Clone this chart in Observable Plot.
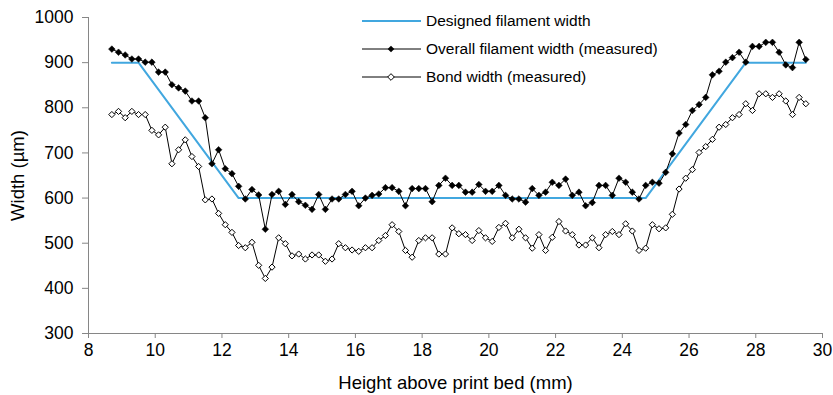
<!DOCTYPE html>
<html>
<head>
<meta charset="utf-8">
<script src="https://cdn.jsdelivr.net/npm/d3@7"></script>
<script src="https://cdn.jsdelivr.net/npm/@observablehq/plot@0.6"></script>
<style>
  html, body { margin: 0; padding: 0; background: #fff; }
  #chart { position: relative; width: 833px; height: 395px; }
</style>
</head>
<body>
<div id="chart"></div>
<script>
// Heights above print bed (mm)
const heights = [
  8.7, 8.9, 9.1, 9.3, 9.5, 9.7, 9.9, 10.1, 10.3, 10.5,
  10.7, 10.9, 11.1, 11.3, 11.5, 11.7, 11.9, 12.1, 12.3, 12.5,
  12.7, 12.9, 13.1, 13.3, 13.5, 13.7, 13.9, 14.1, 14.3, 14.5,
  14.7, 14.9, 15.1, 15.3, 15.5, 15.7, 15.9, 16.1, 16.3, 16.5,
  16.7, 16.9, 17.1, 17.3, 17.5, 17.7, 17.9, 18.1, 18.3, 18.5,
  18.7, 18.9, 19.1, 19.3, 19.5, 19.7, 19.9, 20.1, 20.3, 20.5,
  20.7, 20.9, 21.1, 21.3, 21.5, 21.7, 21.9, 22.1, 22.3, 22.5,
  22.7, 22.9, 23.1, 23.3, 23.5, 23.7, 23.9, 24.1, 24.3, 24.5,
  24.7, 24.9, 25.1, 25.3, 25.5, 25.7, 25.9, 26.1, 26.3, 26.5,
  26.7, 26.9, 27.1, 27.3, 27.5, 27.7, 27.9, 28.1, 28.3, 28.5,
  28.7, 28.9, 29.1, 29.3, 29.5
];
// Overall filament width (measured), µm
const overallWidth = [
  930, 923, 917, 908, 908, 901, 901, 879, 879, 851,
  844, 837, 815, 815, 778, 676, 707, 665, 654, 626,
  598, 619, 607, 531, 608, 615, 586, 608, 592, 584,
  575, 608, 575, 598, 598, 608, 615, 583, 600, 606,
  609, 623, 623, 615, 583, 621, 621, 621, 592, 628,
  644, 628, 628, 613, 613, 630, 615, 615, 628, 606,
  598, 598, 591, 621, 606, 613, 635, 628, 642, 606,
  613, 583, 590, 628, 628, 606, 644, 635, 613, 598,
  628, 635, 633, 657, 698, 744, 763, 794, 807, 823,
  873, 881, 901, 911, 923, 901, 936, 936, 945, 945,
  923, 895, 889, 945, 907
];
// Bond width (measured), µm
const bondWidth = [
  785, 792, 778, 792, 785, 785, 750, 740, 757, 676,
  707, 729, 692, 670, 596, 598, 566, 541, 524, 495,
  490, 502, 451, 422, 447, 512, 499, 472, 476, 465,
  474, 474, 460, 465, 499, 490, 485, 482, 490, 490,
  506, 517, 541, 526, 484, 469, 506, 512, 512, 476,
  476, 534, 521, 519, 506, 528, 512, 504, 535, 544,
  512, 531, 512, 489, 519, 484, 513, 548, 527, 519,
  496, 496, 512, 490, 519, 526, 519, 543, 527, 484,
  489, 541, 532, 534, 564, 620, 644, 663, 701, 714,
  730, 757, 763, 778, 785, 809, 794, 831, 831, 823,
  831, 815, 785, 823, 809
];
// Designed filament width profile
const designedHeights = [8.7, 9.5, 12.5, 24.7, 27.7, 29.5];
const designedWidth = [900, 900, 600, 600, 900, 900];

const xTicks = [8, 10, 12, 14, 16, 18, 20, 22, 24, 26, 28, 30];
const yTicks = [300, 400, 500, 600, 700, 800, 900, 1000];

const seriesNames = ["Designed filament width", "Overall filament width (measured)", "Bond width (measured)"];

const overall = heights.map((h, i) => ({h, w: overallWidth[i]}));
const bond = heights.map((h, i) => ({h, w: bondWidth[i]}));
const designed = designedHeights.map((h, i) => ({h, w: designedWidth[i]}));

const blue = "#41A7DF";
const axisGray = "#868686";
const font = "'Liberation Sans', Arial, sans-serif";

const chart = Plot.plot({
  width: 833,
  height: 395,
  marginLeft: 88,
  marginRight: 11,
  marginTop: 17,
  marginBottom: 62,
  style: {fontFamily: font, fontSize: "17.5px", color: "#000", background: "#fff"},
  x: {domain: [8, 30]},
  y: {domain: [300, 1000]},
  marks: [
    Plot.ruleX([8], {stroke: axisGray, strokeWidth: 1}),
    Plot.ruleY([300], {stroke: axisGray, strokeWidth: 1}),
    Plot.axisX({ticks: xTicks, tickSize: 5, tickPadding: 5, stroke: axisGray, fill: "#000",
      fontSize: 17.5, tickFormat: d => String(d), label: null}),
    Plot.axisX({ticks: [], label: "Height above print bed (mm)", labelAnchor: "center",
      labelArrow: "none", labelOffset: 55, fontSize: 18.5, fill: "#000"}),
    Plot.axisY({ticks: yTicks, tickSize: 6, tickPadding: 9, stroke: axisGray, fill: "#000",
      fontSize: 17.5, tickFormat: d => String(d), label: null}),
    Plot.axisY({ticks: [], label: "Width (µm)", labelAnchor: "center", labelArrow: "none",
      labelOffset: 78, fontSize: 18.5, fill: "#000"}),
    Plot.line(designed, {x: "h", y: "w", stroke: blue, strokeWidth: 2}),
    Plot.line(overall, {x: "h", y: "w", stroke: "#000", strokeWidth: 1}),
    Plot.dot(overall, {x: "h", y: "w", symbol: "diamond2", r: 3, fill: "#000", stroke: "#000", strokeWidth: 0.5}),
    Plot.line(bond, {x: "h", y: "w", stroke: "#000", strokeWidth: 1}),
    Plot.dot(bond, {x: "h", y: "w", symbol: "diamond2", r: 2.8, fill: "#fff", stroke: "#000", strokeWidth: 1})
  ]
});

document.getElementById("chart").appendChild(chart);

// Legend (inside the plot area, top-centre)
const svg = d3.select(chart);
const lg = svg.append("g").attr("font-family", font).attr("font-size", 15.5).attr("text-anchor", "start");
const rows = [21, 49, 77];
const diamond = d3.symbol(d3.symbolDiamond2, Math.PI * 3 * 3);
seriesNames.forEach((name, i) => {
  const y = rows[i];
  lg.append("line").attr("x1", 362).attr("x2", 421).attr("y1", y).attr("y2", y)
    .attr("stroke", i === 0 ? blue : "#000").attr("stroke-width", i === 0 ? 2 : 1);
  if (i === 1) lg.append("path").attr("d", diamond()).attr("transform", `translate(391,${y})`).attr("fill", "#000");
  if (i === 2) lg.append("path").attr("d", diamond()).attr("transform", `translate(391,${y})`).attr("fill", "#fff").attr("stroke", "#000");
  lg.append("text").attr("x", 426).attr("y", y).attr("dy", "0.35em").attr("fill", "#000").text(name);
});
</script>
</body>
</html>
